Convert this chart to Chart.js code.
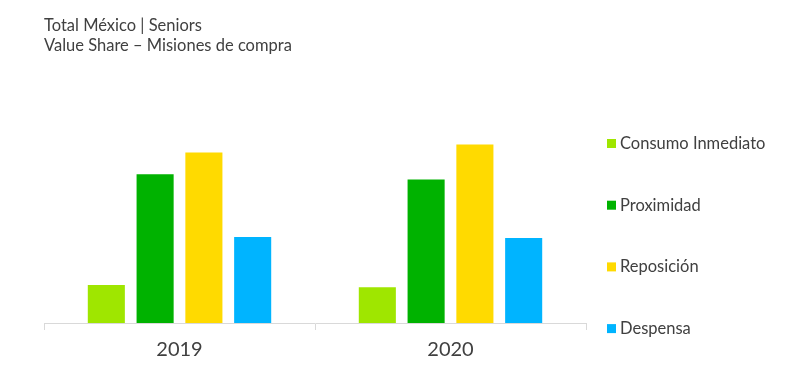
<!DOCTYPE html>
<html>
<head>
<meta charset="utf-8">
<script src="https://cdn.jsdelivr.net/npm/chart.js"></script>
<style>
  html, body { margin: 0; padding: 0; background: #ffffff; }
  #wrap { width: 796px; height: 381px; }
</style>
</head>
<body>
<div id="wrap"><canvas id="mission-chart" width="796" height="381"></canvas></div>
<script>
const years = ['2019', '2020'];
const seriesNames = ['Consumo Inmediato', 'Proximidad', 'Reposición', 'Despensa'];
const consumoInmediato = [8.6, 8.1];
const proximidad = [33.6, 32.4];
const reposicion = [38.5, 40.3];
const despensa = [19.4, 19.2];
const seriesColors = ['#9fe600', '#00b200', '#ffda00', '#00b4ff'];
const titleLines = ['Total México | Seniors', 'Value Share – Misiones de compra'];

const FONT = 'Lato, "Open Sans", sans-serif';
const TEXT_COLOR = '#404040';

// legend drawn on the canvas, to the right of the plot
const sideLegend = {
  id: 'sideLegend',
  afterDraw(chart) {
    const ctx = chart.ctx;
    const x = 607;
    const firstY = 143.5;
    const step = 61.7;
    const box = 9;
    ctx.save();
    ctx.font = '16.5px ' + FONT;
    ctx.textBaseline = 'middle';
    ctx.textAlign = 'left';
    chart.data.datasets.forEach((ds, i) => {
      const cy = firstY + i * step;
      ctx.fillStyle = ds.backgroundColor;
      ctx.fillRect(x, cy - box / 2, box, box);
      ctx.fillStyle = TEXT_COLOR;
      ctx.fillText(ds.label, x + 13, cy);
    });
    ctx.restore();
  }
};

const seriesValues = [consumoInmediato, proximidad, reposicion, despensa];

const ctx = document.getElementById('mission-chart').getContext('2d');
const chart = new Chart(ctx, {
  type: 'bar',
  data: {
    labels: years,
    datasets: seriesNames.map((name, i) => ({
      label: name,
      data: seriesValues[i],
      backgroundColor: seriesColors[i],
      borderWidth: 0,
      categoryPercentage: 0.72,
      barPercentage: 0.76
    }))
  },
  options: {
    responsive: false,
    animation: false,
    devicePixelRatio: 1,
    layout: {
      padding: { left: 44, right: 210, top: 0, bottom: 11 }
    },
    plugins: {
      legend: { display: false },
      tooltip: { enabled: false },
      title: {
        display: true,
        text: titleLines,
        align: 'start',
        color: TEXT_COLOR,
        font: { family: FONT, size: 16.5, weight: 'normal', lineHeight: 1.2 },
        padding: { top: 16, bottom: 46 }
      }
    },
    scales: {
      x: {
        grid: {
          display: true,
          drawOnChartArea: false,
          drawTicks: true,
          tickLength: 7,
          color: '#d9d9d9',
          lineWidth: 1
        },
        border: { display: true, color: '#d9d9d9', width: 1 },
        ticks: {
          color: TEXT_COLOR,
          padding: 8,
          font: { family: FONT, size: 20 }
        }
      },
      y: {
        display: false,
        min: 0,
        max: 50
      }
    }
  },
  plugins: [sideLegend]
});
</script>
</body>
</html>
